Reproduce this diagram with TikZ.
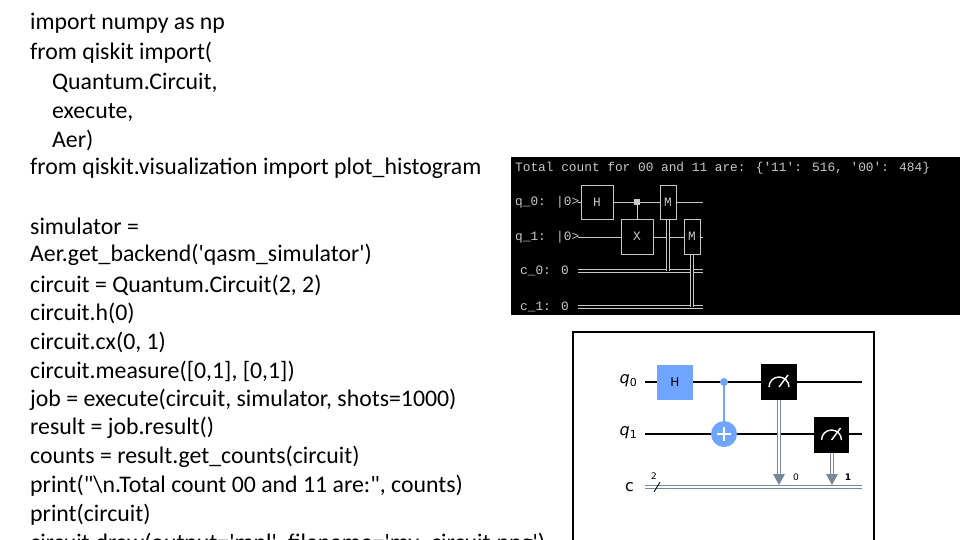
\documentclass[tikz,border=0pt]{standalone}
\usepackage{fontspec}
\setmainfont{Carlito}
\newfontfamily\termfont{Liberation Mono}
\newfontfamily\mplfont{DejaVu Sans}
\usetikzlibrary{arrows.meta}
\definecolor{term}{HTML}{C8C8C8}
\definecolor{qblue}{HTML}{6FA4FF}
\definecolor{cgrey}{HTML}{778899}
\newcommand{\sq}{\textquotesingle}
\newcommand{\dq}{\textquotedbl}
\newcommand{\qsub}[2]{{\itshape #1}\raisebox{-3pt}{\fontsize{11}{11}\selectfont #2}}
\begin{document}
\begin{tikzpicture}[x=1pt,y=-1pt,
  code/.style={anchor=west,inner sep=0,font=\fontsize{23.8}{23.8}\selectfont},
  tt/.style={anchor=west,inner sep=0,text=term,font=\termfont\fontsize{12.8}{12.8}\selectfont},
  tbox/.style={draw=term,fill=black,line width=0.8,inner sep=0,text=term,font=\termfont\fontsize{12.8}{12.8}\selectfont},
  tw/.style={draw=term,line width=0.8},
  tdw/.style={draw=term,double=black,double distance=1.8,line width=0.9},
  qw/.style={draw=black,line width=1.2},
  cw/.style={draw=cgrey,double=white,double distance=1.8,line width=1.2},
  lab/.style={inner sep=0,font=\mplfont\fontsize{16}{16}\selectfont}]
\useasboundingbox (0,0) rectangle (960,540);
\begin{scope}
\clip (0,0) rectangle (960,540);
\foreach \t/\x/\y [count=\i] in {
 {import numpy as np}/30/23,
 {from qiskit import(}/30/53,
 {Quantum.Circuit,}/52/83,
 {execute,}/52/112,
 {Aer)}/52/140,
 {from qiskit.visualization import plot\_histogram}/30/168,
 {simulator =}/30/226,
 {Aer.get\_backend(\sq qasm\_simulator\sq)}/30/255,
 {circuit = Quantum.Circuit(2, 2)}/30/285,
 {circuit.h(0)}/30/313,
 {circuit.cx(0, 1)}/30/342,
 {circuit.measure([0,1], [0,1])}/30/371,
 {job = execute(circuit, simulator, shots=1000)}/30/400,
 {result = job.result()}/30/428,
 {counts = result.get\_counts(circuit)}/30/457,
 {print(\dq\textbackslash n.Total count 00 and 11 are:\dq, counts)}/30/486,
 {print(circuit)}/30/515,
 {circuit.draw(output=\sq mpl\sq, filename=\sq my\_circuit.png\sq)}/30/544}
 \node[code] (c\i) at (\x,\y) {\t};
\end{scope}
% terminal
\fill[black] (511,157) rectangle (963,315);
\node[tt] (tot) at (515,168) {Total count for 00 and 11 are: \{\sq 11\sq: 516, \sq 00\sq: 484\}};
\node[tt] (lq0) at (515,202) {q\_0: |0>};
\node[tt] (lq1) at (515,237) {q\_1: |0>};
\node[tt] (lc0) at (520,271) {c\_0: 0};
\node[tt] (lc1) at (520,307) {c\_1: 0};
\coordinate (q0s) at (578,202); \coordinate (q0e) at (703,202);
\coordinate (q1s) at (578,237); \coordinate (q1e) at (703,237);
\coordinate (c0s) at (578,271); \coordinate (c0e) at (703,271);
\coordinate (c1s) at (578,307); \coordinate (c1e) at (703,307);
\draw[tw] (q0s) -- (q0e); \draw[tw] (q1s) -- (q1e);
\draw[tdw] (c0s) -- (c0e); \draw[tdw] (c1s) -- (c1e);
\coordinate (m1b) at (668,219); \coordinate (m1c) at (668,271);
\coordinate (m2b) at (692,254); \coordinate (m2c) at (692,307);
\draw[tdw] (m1b) -- (m1c); \draw[tdw] (m2b) -- (m2c);
\node[tbox,minimum width=32,minimum height=34] (th) at (597,202) {H};
\node[tbox,minimum width=32,minimum height=35] (tx) at (637,236.5) {X};
\node[fill=term,minimum size=6,inner sep=0] (tc) at (637,202) {};
\draw[tw] (tc) -- (tx.north);
\node[tbox,minimum width=16,minimum height=34] (tm1) at (668,202) {M};
\node[tbox,minimum width=16,minimum height=35] (tm2) at (692,236.5) {M};
% mpl circuit
\draw[black,line width=1.2,fill=white] (573,332) rectangle (874,545);
\node[lab,anchor=east] (mq0) at (637,381) {\qsub{q}{0}};
\node[lab,anchor=east] (mq1) at (637,433) {\qsub{q}{1}};
\node[lab,anchor=east] (mc) at (634,487) {c};
\coordinate (a0) at (645,382); \coordinate (b0) at (862,382);
\coordinate (a1) at (645,434); \coordinate (b1) at (862,434);
\coordinate (ac) at (645,487); \coordinate (bc) at (862,487);
\draw[qw] (a0) -- (b0); \draw[qw] (a1) -- (b1);
\draw[cw] (ac) -- (bc);
\draw[black,line width=0.8] (654,492) -- (660,482);
\node[lab,font=\mplfont\fontsize{9}{9}\selectfont] (two) at (654,476) {2};
\node[fill=qblue,minimum width=36,minimum height=35,inner sep=0,font=\mplfont\fontsize{12}{12}\selectfont] (mh) at (675,382.5) {H};
\node[circle,fill=qblue,minimum size=8,inner sep=0] (ctl) at (724,382) {};
\node[circle,fill=qblue,minimum size=26,inner sep=0] (tgt) at (724,434) {};
\draw[qblue,line width=1.5] (ctl) -- (tgt);
\draw[white,line width=1.5] (717,434) -- (731,434) (724,427) -- (724,441);
\coordinate (m1x) at (779,400); \coordinate (m1y) at (779,484);
\coordinate (m2x) at (832,453); \coordinate (m2y) at (832,484);
\draw[cw] (m1x) -- (779,476); \draw[cw] (m2x) -- (832,476);
\fill[cgrey] (773,474) -- (785,474) -- (779,485) -- cycle;
\fill[cgrey] (826,474) -- (838,474) -- (832,485) -- cycle;
\node[fill=black,minimum width=36,minimum height=36,inner sep=0] (mm1) at (779,382) {};
\node[fill=black,minimum width=35,minimum height=36,inner sep=0] (mm2) at (831.5,435) {};
\foreach \m in {mm1,mm2}{
 \draw[white,line width=1.4] ([shift={(-10,5)}]\m.center) arc[start angle=180,end angle=360,radius=10];
 \draw[white,line width=1.4] ([shift={(0,5)}]\m.center) -- ([shift={(9,-7)}]\m.center);}
\node[lab,font=\mplfont\fontsize{9}{9}\selectfont] (l0) at (796,477) {0};
\node[lab,font=\mplfont\bfseries\fontsize{9}{9}\selectfont] (l1) at (848,477) {1};
\end{tikzpicture}
\end{document}
